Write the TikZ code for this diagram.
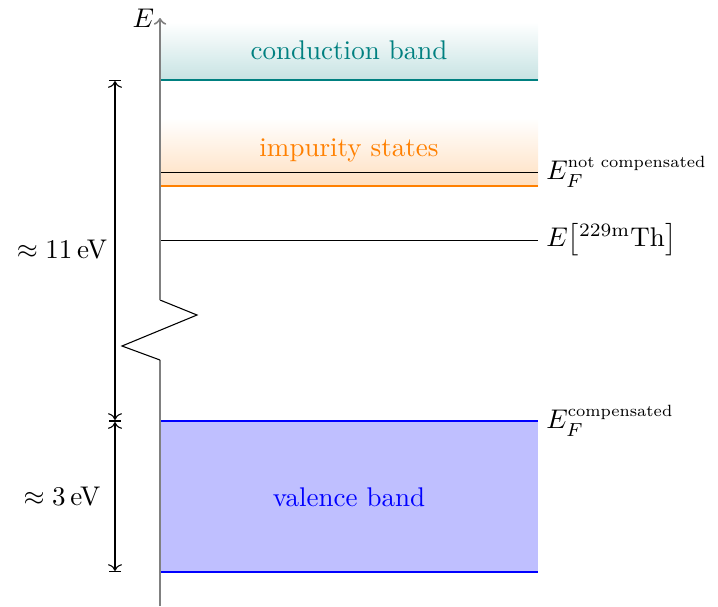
\documentclass[tikz,border=0pt]{standalone}
\usepackage{amsmath}
\usepackage{graphicx}
\usetikzlibrary{arrows.meta,positioning}
\newcommand{\lvsup}[1]{\text{\scalebox{0.86}{\scriptsize #1}}}
\tikzset{
  lv diagram/.style={x=0.37pt, y=-0.37pt},
  lv axis/.style={draw=gray, line width=0.75pt},
  lv break/.style={draw=black, line width=0.4pt},
  lv edge/.style={line width=0.75pt},
  lv level/.style={draw=black, line width=0.35pt},
  lv label/.style={anchor=west, inner sep=1pt},
  lv dim/.style={|<->|, draw=black, line width=0.4pt},
  lv dim label/.style={inner sep=1pt}
}

\begin{document}
\begin{tikzpicture}[lv diagram]
\useasboundingbox (0,0) rectangle (718,606);
% bands
\shade[top color=white, bottom color=teal!22] (160,22) rectangle (538,80);
\shade[top color=white, bottom color=orange!25] (160,118) rectangle (538,186);
\fill[blue!25] (160,421) rectangle (538,572);
\coordinate (cb left) at (160,80);  \coordinate (cb right) at (538,80);
\coordinate (fn left) at (160,172); \coordinate (fn right) at (538,172);
\coordinate (im left) at (160,186); \coordinate (im right) at (538,186);
\coordinate (th left) at (160,240); \coordinate (th right) at (538,240);
\coordinate (vt left) at (160,421); \coordinate (vt right) at (538,421);
\coordinate (vb left) at (160,572); \coordinate (vb right) at (538,572);
\draw[lv edge, teal] (cb left) -- (cb right);
\draw[lv level] (fn left) -- (fn right);
\draw[lv edge, orange] (im left) -- (im right);
\draw[lv level] (th left) -- (th right);
\draw[lv edge, blue] (vt left) -- (vt right);
\draw[lv edge, blue] (vb left) -- (vb right);
\node[teal] (cb) at (349,50) {conduction band};
\node[orange] (imp) at (349,150) {impurity states};
\node[blue] (vb) at (349,497) {valence band};
% energy axis with break
\coordinate (ax bottom) at (160,606);
\coordinate (brk low) at (160,360);
\coordinate (brk high) at (160,300);
\coordinate (ax top) at (160,18);
\draw[lv axis] (ax bottom) -- (brk low);
\draw[lv break] (brk low) -- (122,346) -- (197,315) -- (brk high);
\draw[lv axis, -to] (brk high) -- (ax top);
\node[left=1pt of ax top, inner sep=1pt] (elabel) {$E$};
% levels
\node[lv label] (efnc) at (543,172) {$E_F^{\lvsup{not compensated}}$};
\node[lv label] (eth) at (543,240) {$E\bigl[{}^{229\text{m}}\text{Th}\bigr]$};
\node[lv label] (efc) at (543,421) {$E_F^{\lvsup{compensated}}$};
% gaps
\coordinate (dim top) at (115,80);
\coordinate (dim mid) at (115,421);
\coordinate (dim bottom) at (115,572);
\draw[lv dim] (dim top) -- (dim mid);
\draw[lv dim] (dim mid) -- (dim bottom);
\node[lv dim label] (gap big) at (62,250) {$\approx 11\,\text{eV}$};
\node[lv dim label] (gap small) at (62,497) {$\approx 3\,\text{eV}$};
\end{tikzpicture}
\end{document}
